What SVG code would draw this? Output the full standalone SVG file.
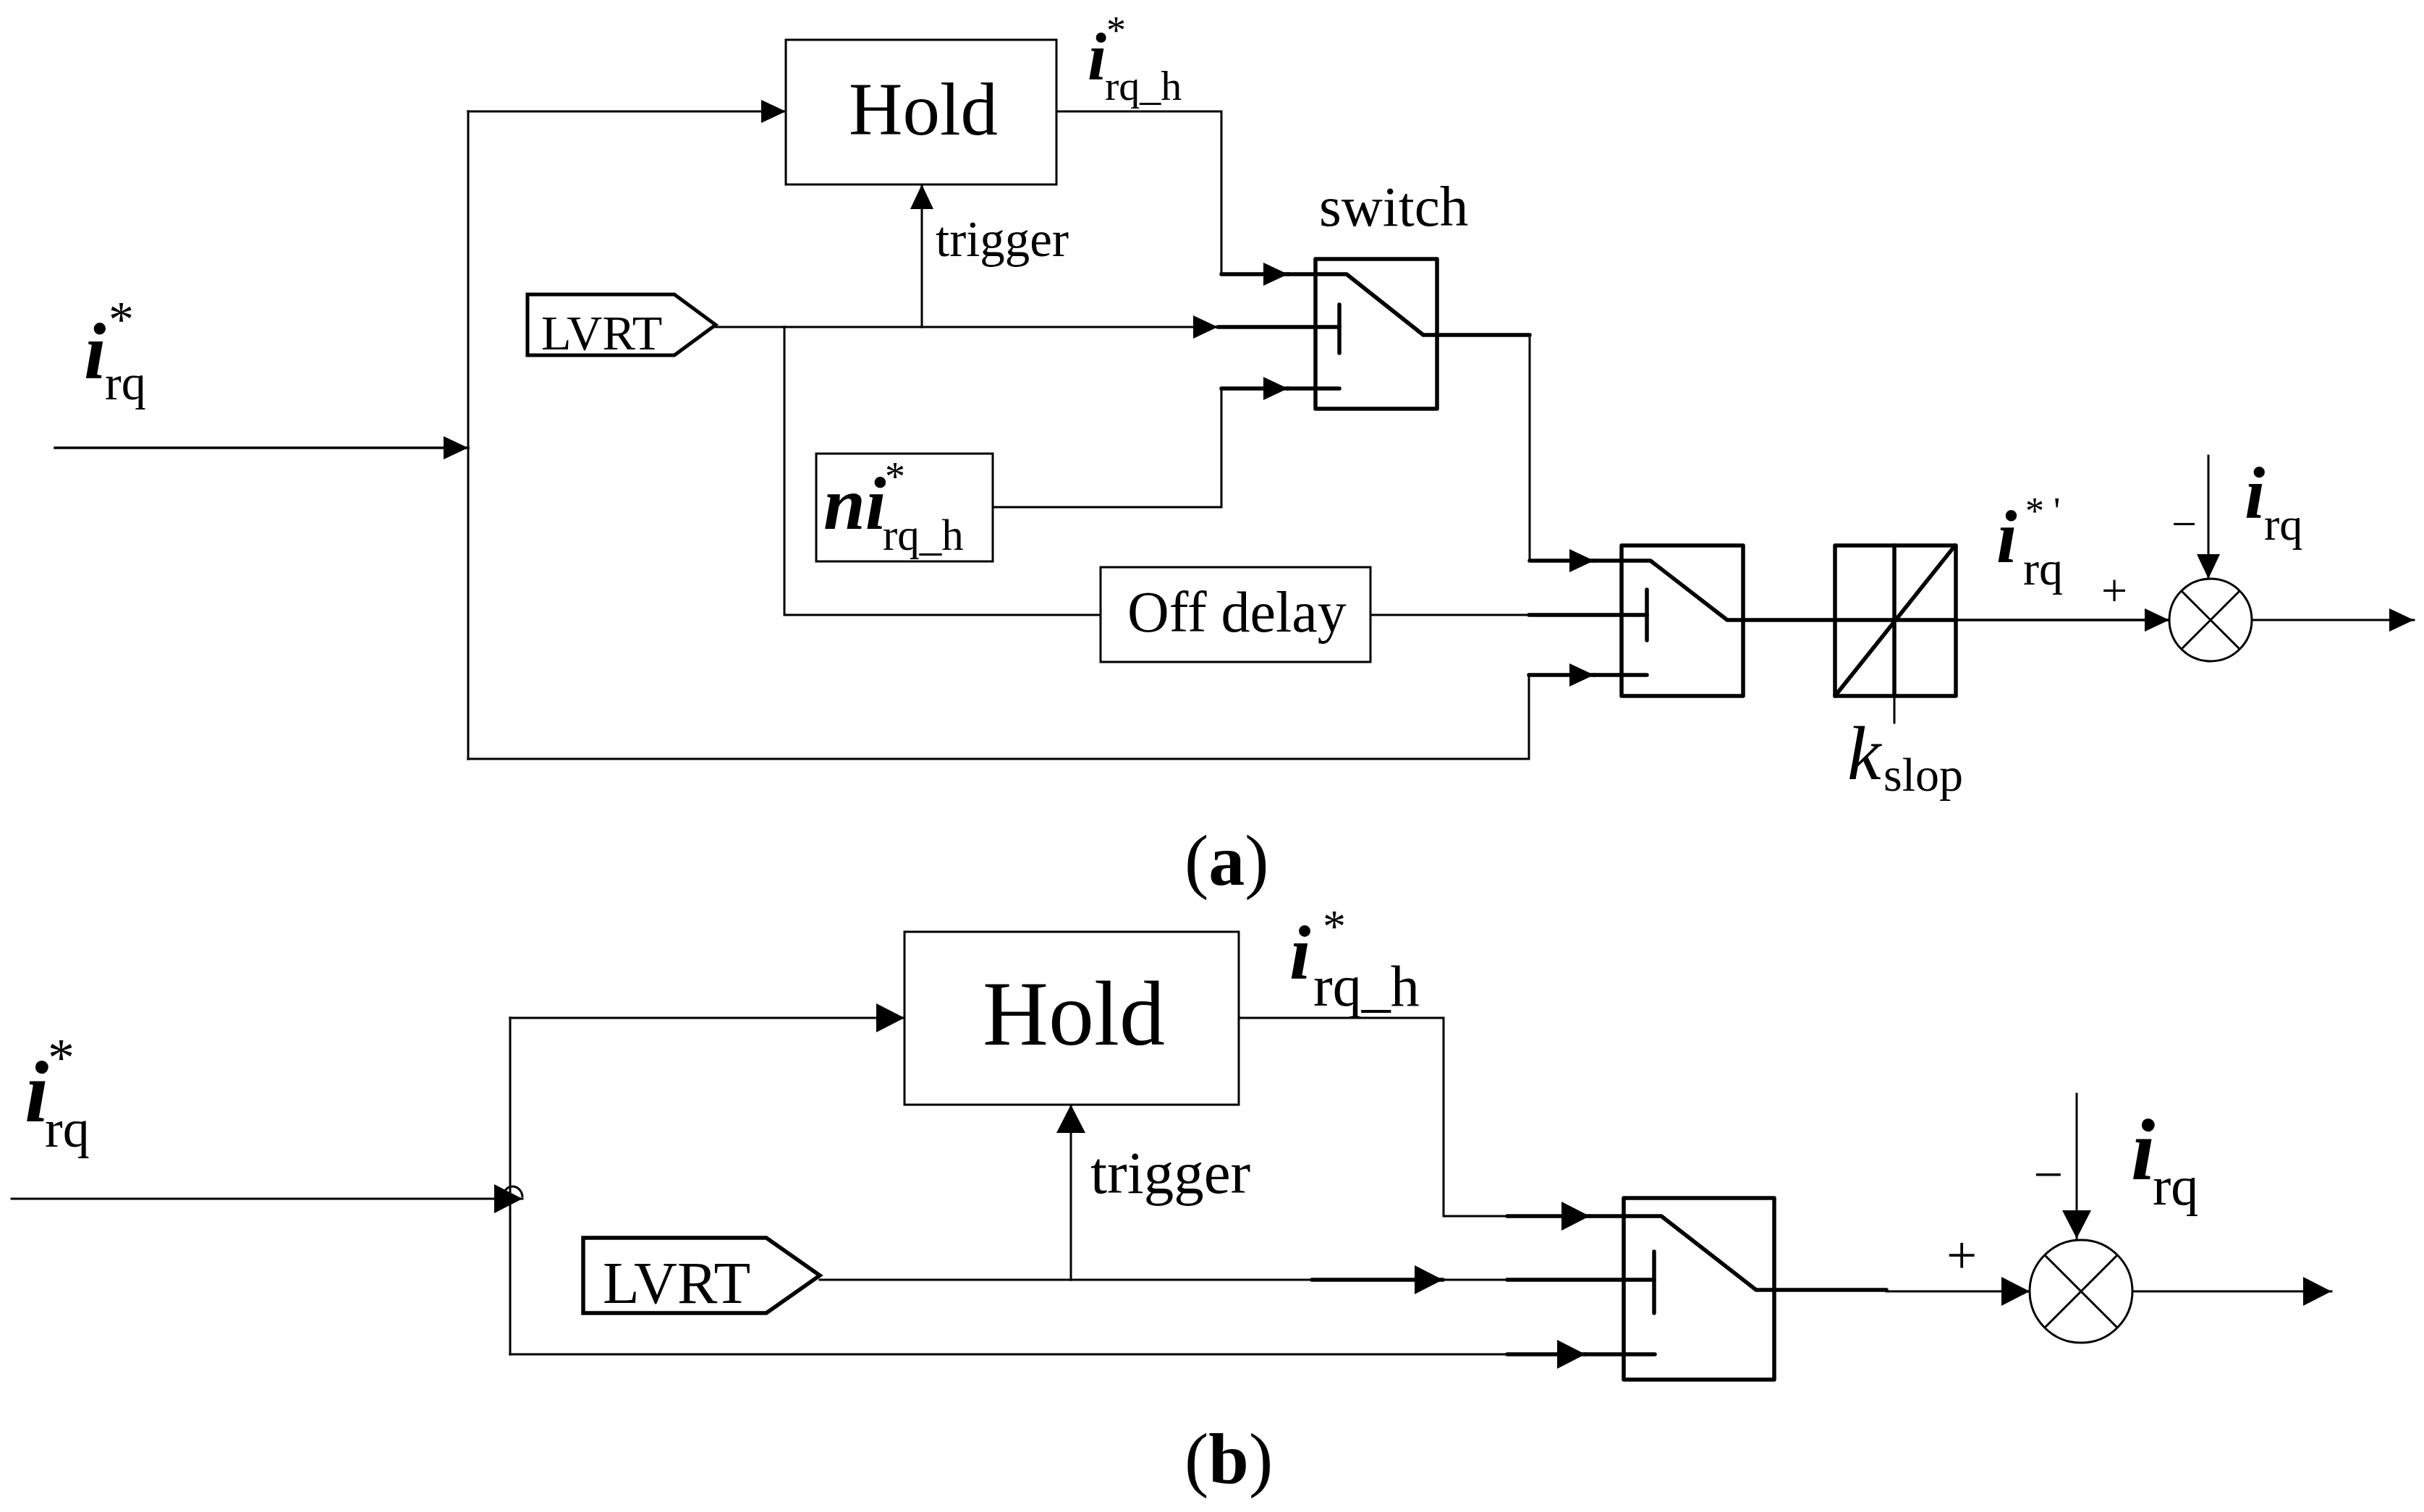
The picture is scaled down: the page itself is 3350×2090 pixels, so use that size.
<svg xmlns="http://www.w3.org/2000/svg" width="3350" height="2090" viewBox="0 0 3350 2090">
<defs>
<style>
.w{fill:none;stroke:#000;stroke-width:3;stroke-linecap:square}
.k{fill:none;stroke:#000;stroke-width:5.5;stroke-linecap:round;stroke-linejoin:round}
.box{fill:#fff;stroke:#000;stroke-width:3}
.bx{fill:none;stroke:#000;stroke-width:5.5;stroke-linejoin:round}
text{font-family:"Liberation Serif","Times New Roman",serif;fill:#000}
.m{font-weight:bold;font-style:italic}
.it{font-style:italic}
</style>
<marker id="arA" markerUnits="userSpaceOnUse" markerWidth="34" markerHeight="32" viewBox="0 0 34 32" refX="34" refY="16" orient="auto"><path d="M0,0 L34,16 L0,32 Z" fill="#000"/></marker>
<marker id="arB" markerUnits="userSpaceOnUse" markerWidth="39" markerHeight="40" viewBox="0 0 39 40" refX="39" refY="20" orient="auto"><path d="M0,0 L39,20 L0,40 Z" fill="#000"/></marker>
</defs>
<rect x="0" y="0" width="3350" height="2090" fill="#fff"/>

<g id="connectors">
<!-- (a) -->
<path class="w" d="M76,619 H647" style="stroke-width:3.5" marker-end="url(#arA)"/>
<path class="w" d="M647,154 V1049"/>
<path class="w" d="M647,154 H1086" marker-end="url(#arA)"/>
<path class="w" d="M647,1049 H2113 V933"/>
<path class="k" d="M2113,933 H2203" marker-end="url(#arA)"/>
<path class="k" d="M2203,933 H2276"/>
<path class="w" d="M1460,154 H1688 V379"/>
<path class="k" d="M1688,379 H1780" marker-end="url(#arA)"/>
<path class="k" d="M1780,379 H1861 L1967,463 H2114"/>
<path class="w" d="M2114,463 V775"/>
<path class="k" d="M2114,775 H2203" marker-end="url(#arA)"/>
<path class="k" d="M2203,775 H2281 L2387,857 H2702"/>
<path class="w" d="M989,452 H1683" marker-end="url(#arA)"/>
<path class="k" d="M1683,452 H1851"/>
<path class="w" d="M1274,452 V255" marker-end="url(#arA)"/>
<path class="w" d="M1084,452 V850 H1521"/>
<path class="w" d="M1894,850 H2113"/>
<path class="k" d="M2113,850 H2276"/>
<path class="w" d="M1372,701 H1688 V537"/>
<path class="k" d="M1688,537 H1780" marker-end="url(#arA)"/>
<path class="k" d="M1780,537 H1851"/>
<path class="w" d="M2702,857 H2998" style="stroke-width:3.5" marker-end="url(#arA)"/>
<path class="w" d="M3112,857 H3336" marker-end="url(#arA)"/>
<path class="w" d="M3052,630 V800" marker-end="url(#arA)"/>
<!-- (b) -->
<path class="w" d="M16,1657 H722" marker-end="url(#arB)"/>
<path class="w" d="M695,1655 A13.5,15 0 0 1 722,1655" style="stroke-linecap:butt"/>
<path class="w" d="M705,1407 V1872"/>
<path class="w" d="M705,1407 H1250" marker-end="url(#arB)"/>
<path class="w" d="M705,1872 H2083"/>
<path class="k" d="M2083,1872 H2191" marker-end="url(#arB)"/>
<path class="k" d="M2191,1872 H2287"/>
<path class="w" d="M1712,1407 H1995 V1681 H2083"/>
<path class="k" d="M2083,1681 H2197" marker-end="url(#arB)"/>
<path class="k" d="M2197,1681 H2296 L2427,1783 H2607"/>
<path class="w" d="M2607,1785 H2805" marker-end="url(#arB)"/>
<path class="w" d="M2946,1785 H3222" marker-end="url(#arB)"/>
<path class="w" d="M2870,1512 V1712" marker-end="url(#arB)"/>
<path class="w" d="M1133,1769 H1813"/>
<path class="k" d="M1813,1769 H1994" marker-end="url(#arB)"/>
<path class="w" d="M1994,1769 H2083"/>
<path class="k" d="M2083,1769 H2286"/>
<path class="w" d="M1480,1769 V1527" marker-end="url(#arB)"/>
</g>

<!-- ===== (a) nodes ===== -->
<g id="a_input_label">
<text><tspan x="116" y="523" font-size="110" class="m">i</tspan><tspan x="150" y="465" font-size="70">*</tspan><tspan x="145" y="552" font-size="68">rq</tspan></text>
</g>
<g id="a_hold">
<rect class="box" x="1086" y="55" width="374" height="200"/>
<text x="1276" y="186" font-size="103" text-anchor="middle">Hold</text>
</g>
<g id="a_hold_out_label">
<text><tspan x="1503" y="110" font-size="94" class="m">i</tspan><tspan x="1529" y="60" font-size="54">*</tspan><tspan x="1527" y="138" font-size="58">rq_h</tspan></text>
</g>
<g id="a_trigger_label"><text x="1293" y="354" font-size="69">trigger</text></g>
<g id="a_lvrt">
<path d="M729,407 H932 L989,449 L932,491 H729 Z" fill="#fff" stroke="#000" stroke-width="5" stroke-linejoin="miter"/>
<text x="748" y="483" font-size="68">LVRT</text>
</g>
<g id="a_ni">
<rect class="box" x="1128" y="627" width="244" height="149"/>
<text><tspan x="1138" y="731" font-size="104" class="m">ni</tspan><tspan x="1223" y="678" font-size="56">*</tspan><tspan x="1220" y="760" font-size="61">rq_h</tspan></text>
</g>
<g id="a_offdelay">
<rect class="box" x="1521" y="784" width="373" height="131"/>
<text x="1558" y="873" font-size="80">Off delay</text>
</g>
<g id="a_switch1">
<rect class="bx" x="1818" y="358" width="168" height="207"/>
<path class="k" d="M1851,421 V488"/>
<text x="1823" y="312" font-size="79">switch</text>
</g>
<g id="a_switch2">
<rect class="bx" x="2241" y="754" width="168" height="208"/>
<path class="k" d="M2276,815 V885"/>
</g>
<g id="a_ramp">
<rect class="bx" x="2536" y="754" width="167" height="208"/>
<path class="k" d="M2618,754 V962 M2536,962 L2702,754"/>
<path class="w" d="M2618,962 V999"/>
<text><tspan x="2553" y="1077" font-size="105" class="it">k</tspan><tspan x="2603" y="1093" font-size="66">slop</tspan></text>
</g>
<g id="a_ref_label">
<text><tspan x="2759" y="777" font-size="103" class="m">i</tspan><tspan x="2799" y="724" font-size="52">*</tspan><tspan x="2838" y="724" font-size="52">'</tspan><tspan x="2796" y="808" font-size="66">rq</tspan></text>
<text x="2904" y="838" font-size="64">+</text>
</g>
<g id="a_sum">
<circle cx="3055" cy="857" r="57" fill="#fff" stroke="#000" stroke-width="3"/>
<path class="w" d="M3015,817 L3095,897 M3015,897 L3095,817" style="stroke-linecap:butt"/>
<text x="3001" y="745" font-size="62">−</text>
<text><tspan x="3102" y="716" font-size="102" class="m">i</tspan><tspan x="3129" y="746" font-size="64">rq</tspan></text>
</g>
<g id="caption_a"><text x="1637" y="1223" font-size="100">(<tspan font-weight="bold">a</tspan>)</text></g>

<!-- ===== (b) nodes ===== -->
<g id="b_input_label">
<text><tspan x="34" y="1550" font-size="120" class="m">i</tspan><tspan x="66" y="1487" font-size="74">*</tspan><tspan x="62" y="1585" font-size="74">rq</tspan></text>
</g>
<g id="b_hold">
<rect class="box" x="1250" y="1288" width="462" height="239"/>
<text x="1484" y="1444" font-size="126" text-anchor="middle">Hold</text>
</g>
<g id="b_hold_out_label">
<text><tspan x="1782" y="1353" font-size="106" class="m">i</tspan><tspan x="1828" y="1302" font-size="64">*</tspan><tspan x="1815" y="1390" font-size="80">rq_h</tspan></text>
</g>
<g id="b_trigger_label"><text x="1507" y="1649" font-size="83">trigger</text></g>
<g id="b_lvrt">
<path d="M806,1711 H1059 L1133,1763 L1059,1815 H806 Z" fill="#fff" stroke="#000" stroke-width="5.5" stroke-linejoin="miter"/>
<text x="833" y="1801" font-size="83">LVRT</text>
</g>
<g id="b_switch">
<rect class="bx" x="2244" y="1656" width="208" height="251"/>
<path class="k" d="M2286,1730 V1815"/>
</g>
<g id="b_sum">
<circle cx="2876" cy="1785" r="71" fill="#fff" stroke="#000" stroke-width="3"/>
<path class="w" d="M2826,1735 L2926,1835 M2826,1835 L2926,1735" style="stroke-linecap:butt"/>
<text x="2690" y="1760" font-size="75">+</text>
<text x="2810" y="1648" font-size="73">−</text>
<text><tspan x="2945" y="1630" font-size="120" class="m">i</tspan><tspan x="2975" y="1665" font-size="76">rq</tspan></text>
</g>
<g id="caption_b"><text x="1637" y="2050" font-size="100">(<tspan font-weight="bold">b</tspan>)</text></g>
</svg>
